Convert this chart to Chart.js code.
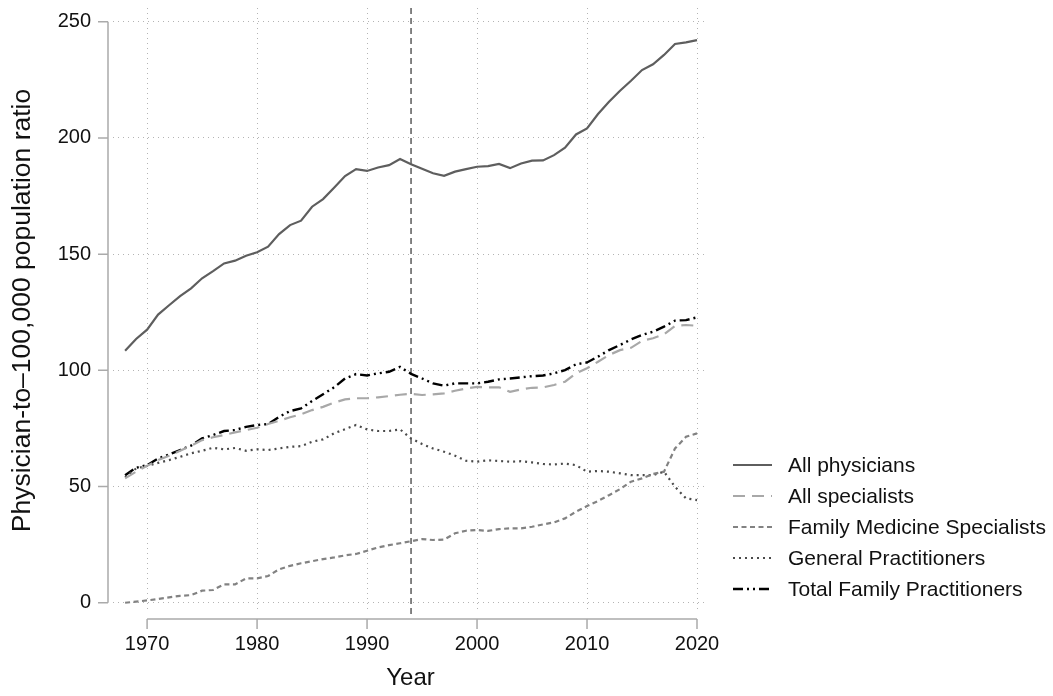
<!DOCTYPE html>
<html>
<head>
<meta charset="utf-8">
<script src="https://cdn.jsdelivr.net/npm/chart.js@4.4.1/dist/chart.umd.min.js"></script>
<style>
  html, body { margin: 0; padding: 0; background: #fff; }
  #wrap { width: 1053px; height: 696px; position: relative; }
</style>
</head>
<body>
<div id="wrap"><canvas id="ratioChart"></canvas></div>
<script>
// Years on the x axis
const years = [1968, 1969, 1970, 1971, 1972, 1973, 1974, 1975, 1976, 1977, 1978, 1979,
  1980, 1981, 1982, 1983, 1984, 1985, 1986, 1987, 1988, 1989,
  1990, 1991, 1992, 1993, 1994, 1995, 1996, 1997, 1998, 1999,
  2000, 2001, 2002, 2003, 2004, 2005, 2006, 2007, 2008, 2009,
  2010, 2011, 2012, 2013, 2014, 2015, 2016, 2017, 2018, 2019, 2020];

// Physician-to-100,000 population ratio
const allPhysicians = [108.4, 113.5, 117.5, 124.0, 128.0, 131.9, 135.3, 139.6, 142.7, 146.0, 147.2, 149.3,
  150.8, 153.2, 158.6, 162.5, 164.4, 170.4, 173.7, 178.6, 183.6, 186.6,
  185.8, 187.3, 188.3, 190.9, 188.7, 186.7, 184.8, 183.7, 185.5, 186.6,
  187.6, 187.9, 188.8, 187.0, 189.0, 190.2, 190.3, 192.6, 195.8, 201.5,
  204.1, 210.3, 215.6, 220.3, 224.6, 229.2, 231.7, 235.7, 240.4, 241.1, 242.1];
const allSpecialists = [53.5, 56.4, 58.9, 61.4, 63.3, 65.4, 67.6, 70.0, 71.2, 72.2, 73.3, 74.3,
  75.3, 76.9, 78.3, 79.8, 81.1, 82.9, 84.3, 86.1, 87.5, 88.0,
  88.0, 88.4, 88.9, 89.5, 89.9, 89.4, 89.7, 90.1, 91.2, 92.2,
  92.9, 92.7, 92.7, 90.8, 91.8, 92.5, 92.7, 93.7, 95.1, 98.7,
  100.9, 103.7, 106.6, 108.7, 109.7, 112.7, 113.8, 115.5, 119.1, 119.5, 119.2];
const familyMedicine = [0.0, 0.5, 1.0, 1.6, 2.3, 3.0, 3.3, 5.2, 5.5, 7.9, 7.9, 10.5,
  10.5, 11.5, 14.4, 15.9, 17.0, 17.9, 18.8, 19.5, 20.4, 21.0,
  22.4, 23.8, 24.8, 25.6, 26.5, 27.4, 27.0, 27.2, 29.9, 31.0,
  31.3, 30.9, 31.7, 32.0, 32.0, 32.7, 33.7, 34.6, 36.3, 39.2,
  41.6, 43.8, 46.3, 48.9, 52.1, 53.5, 55.4, 56.4, 66.4, 71.4, 72.9];
const generalPractitioners = [54.0, 57.8, 58.9, 60.2, 61.4, 62.8, 64.3, 65.4, 66.7, 66.0, 66.6, 65.4,
  66.0, 65.7, 66.4, 67.1, 67.4, 69.3, 70.3, 72.9, 74.7, 76.5,
  74.6, 73.9, 73.9, 74.6, 70.7, 68.3, 66.4, 65.0, 63.3, 61.1,
  60.7, 61.3, 61.0, 60.7, 60.9, 60.4, 59.7, 59.5, 59.9, 59.2,
  56.4, 56.7, 56.4, 55.7, 54.9, 54.9, 54.9, 56.4, 49.9, 44.9, 44.2];
const totalFamily = [54.9, 58.1, 59.2, 62.1, 63.8, 65.7, 67.6, 70.7, 72.2, 73.9, 74.3, 75.7,
  76.5, 76.9, 80.0, 82.5, 83.6, 86.8, 89.7, 92.7, 96.5, 98.4,
  97.8, 98.7, 99.4, 101.5, 98.5, 96.5, 94.4, 93.4, 94.4, 94.4,
  94.4, 95.1, 96.1, 96.5, 97.0, 97.5, 97.8, 98.7, 100.1, 102.6,
  103.4, 105.9, 108.7, 110.9, 113.3, 115.2, 116.6, 118.8, 121.4, 121.6, 122.8];

const xTicks = [1970, 1980, 1990, 2000, 2010, 2020];
const yTicks = [0, 50, 100, 150, 200, 250];
const refYear = 1994;

const FONT = '"Liberation Sans", Arial, Helvetica, sans-serif';

function pts(values) {
    return years.map((yr, i) => ({ x: yr, y: values[i] }));
}

// Stata-like axes, reference line and legend
const stataFrame = {
    id: "stataFrame",
    beforeDatasetsDraw(chart) {
        const { ctx, chartArea, scales: { x } } = chart;
        const px = x.getPixelForValue(refYear);
        ctx.save();
        ctx.strokeStyle = "#777";
        ctx.lineWidth = 1.8;
        ctx.setLineDash([6, 4]);
        ctx.beginPath();
        ctx.moveTo(px, chartArea.top);
        ctx.lineTo(px, chartArea.bottom + 5);
        ctx.stroke();
        ctx.restore();
    },
    afterDraw(chart) {
        const { ctx, chartArea, scales: { x, y } } = chart;
        const axisX = chartArea.left - 5;
        const axisY = chartArea.bottom + 6;
        ctx.save();
        ctx.strokeStyle = "#aaa";
        ctx.lineWidth = 1.5;
        ctx.setLineDash([]);
        ctx.beginPath();
        ctx.moveTo(axisX, y.getPixelForValue(yTicks[yTicks.length - 1]));
        ctx.lineTo(axisX, y.getPixelForValue(yTicks[0]));
        yTicks.forEach(v => {
            const py = y.getPixelForValue(v);
            ctx.moveTo(axisX, py);
            ctx.lineTo(axisX - 10, py);
        });
        ctx.moveTo(x.getPixelForValue(xTicks[0]), axisY);
        ctx.lineTo(x.getPixelForValue(xTicks[xTicks.length - 1]), axisY);
        xTicks.forEach(v => {
            const px = x.getPixelForValue(v);
            ctx.moveTo(px, axisY);
            ctx.lineTo(px, axisY + 10);
        });
        ctx.stroke();

        // legend
        const lx = 733, tx = 788;
        let ly = 465;
        ctx.font = "21px " + FONT;
        ctx.textBaseline = "middle";
        ctx.textAlign = "left";
        chart.data.datasets.forEach(ds => {
            ctx.strokeStyle = ds.borderColor;
            ctx.lineWidth = ds.borderWidth;
            ctx.setLineDash(ds.borderDash || []);
            ctx.beginPath();
            ctx.moveTo(lx, ly);
            ctx.lineTo(lx + 39, ly);
            ctx.stroke();
            ctx.fillStyle = "#111";
            ctx.fillText(ds.label, tx, ly + 1);
            ly += 31;
        });
        ctx.restore();
    }
};

const ctx = document.getElementById("ratioChart").getContext("2d");
new Chart(ctx, {
    type: "line",
    data: {
        datasets: [
            { label: "All physicians", data: pts(allPhysicians), borderColor: "#5e5e5e", borderWidth: 2.2, borderDash: [] },
            { label: "All specialists", data: pts(allSpecialists), borderColor: "#a8a8a8", borderWidth: 2.2, borderDash: [12, 7] },
            { label: "Family Medicine Specialists", data: pts(familyMedicine), borderColor: "#828282", borderWidth: 2.2, borderDash: [5, 3.5] },
            { label: "General Practitioners", data: pts(generalPractitioners), borderColor: "#4a4a4a", borderWidth: 2.2, borderDash: [2, 4] },
            { label: "Total Family Practitioners", data: pts(totalFamily), borderColor: "#000", borderWidth: 2.4, borderDash: [10, 4, 2, 4, 2, 4] }
        ]
    },
    options: {
        responsive: true,
        maintainAspectRatio: false,
        animation: false,
        layout: { padding: { top: 8, right: 345, left: 0, bottom: 0 } },
        elements: { point: { radius: 0 }, line: { tension: 0, borderCapStyle: "butt" } },
        plugins: { legend: { display: false }, tooltip: { enabled: false } },
        scales: {
            x: {
                type: "linear",
                min: 1966.9,
                max: 2021,
                afterBuildTicks: s => { s.ticks = xTicks.map(v => ({ value: v })); },
                afterFit: s => { s.height = 83; s.paddingLeft = 0; s.paddingRight = 0; },
                border: { display: false, dash: [1, 4] },
                grid: { color: "#b4b4b4", lineWidth: 1, drawTicks: false },
                ticks: { color: "#111", font: { family: FONT, size: 20 }, padding: 19, maxRotation: 0, callback: v => String(v) },
                title: { display: true, text: "Year", color: "#111", font: { family: FONT, size: 24 }, padding: { top: 0, bottom: 3 } }
            },
            y: {
                min: -4.4,
                max: 255.9,
                afterBuildTicks: s => { s.ticks = yTicks.map(v => ({ value: v })); },
                afterFit: s => { s.width = 113; s.paddingTop = 0; s.paddingBottom = 0; },
                border: { display: false, dash: [1, 4] },
                grid: { color: "#b4b4b4", lineWidth: 1, drawTicks: false },
                ticks: { color: "#111", font: { family: FONT, size: 20 }, padding: 22 },
                title: { display: true, text: "Physician-to\u2013100,000 population ratio", color: "#111", font: { family: FONT, size: 26.5 }, padding: { top: 7, bottom: 0 } }
            }
        }
    },
    plugins: [stataFrame]
});
</script>
</body>
</html>
